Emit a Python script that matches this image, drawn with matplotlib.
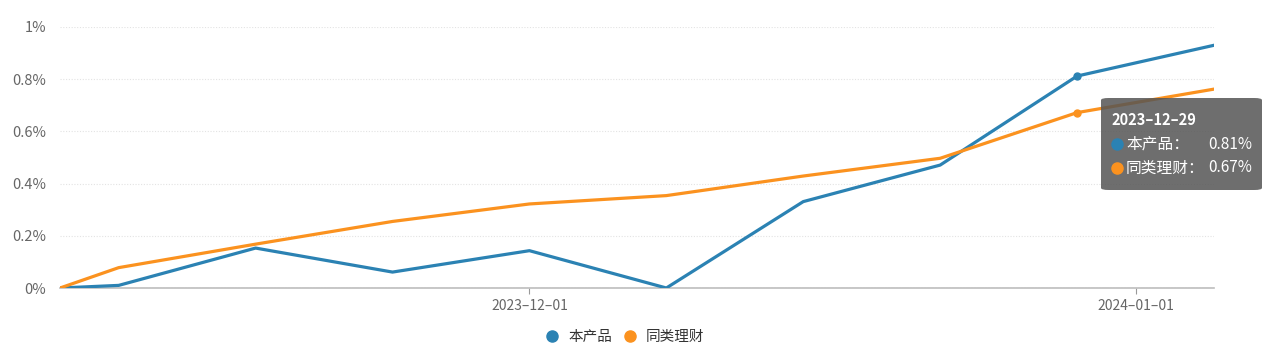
import matplotlib.pyplot as plt
import matplotlib.dates as mdates
from matplotlib.lines import Line2D
from matplotlib.patches import FancyBboxPatch
import numpy as np
import pandas as pd

plt.rcParams['font.family'] = ['Noto Sans CJK SC', 'DejaVu Sans']

# data (percent)
dates = pd.to_datetime(['2023-11-07', '2023-11-10', '2023-11-17', '2023-11-24', '2023-12-01',
                        '2023-12-08', '2023-12-15', '2023-12-22', '2023-12-29', '2024-01-05'])
product = [0.0, 0.01, 0.153, 0.061, 0.143, 0.0, 0.331, 0.471, 0.812, 0.93]
peers = [0.0, 0.078, 0.168, 0.255, 0.322, 0.354, 0.429, 0.497, 0.672, 0.762]
names = ['本产品', '同类理财']
yticks = [0, 0.2, 0.4, 0.6, 0.8, 1.0]
ytick_labels = ['0%', '0.2%', '0.4%', '0.6%', '0.8%', '1%']
xticks = pd.to_datetime(['2023-12-01', '2024-01-01'])
hover = 8  # index of 2023-12-29

blue = '#2b82b3'
orange = '#fb921f'
W, H = 1268, 352

fig = plt.figure(figsize=(W / 100, H / 100), dpi=100)
ax = fig.add_axes([60 / W, 1 - 288 / H, (1214 - 60) / W, (288 - 27) / H])

ax.plot(dates, product, color=blue, lw=2.3, solid_joinstyle='round', zorder=3)
ax.plot(dates, peers, color=orange, lw=2.3, solid_joinstyle='round', zorder=3)
ax.plot(dates[hover], product[hover], 'o', color=blue, ms=5, zorder=4)
ax.plot(dates[hover], peers[hover], 'o', color=orange, ms=5, zorder=4)

ax.set_xlim(dates[0], dates[-1])
ax.set_ylim(0, 1.0)
ax.set_yticks(yticks)
ax.set_yticklabels(ytick_labels)
ax.set_xticks(xticks)
ax.xaxis.set_major_formatter(mdates.DateFormatter('%Y–%m–%d'))

for s in ['top', 'right', 'left']:
    ax.spines[s].set_visible(False)
ax.spines['bottom'].set_color('#bdbdbd')
ax.spines['bottom'].set_linewidth(1.2)
ax.tick_params(axis='y', length=0, pad=10, labelsize=10.5, labelcolor='#666666')
ax.tick_params(axis='x', length=4, color='#999999', pad=4, labelsize=10, labelcolor='#666666')
ax.grid(axis='y', color='#e3e3e3', linestyle=(0, (1, 1.5)), lw=0.8)
ax.set_axisbelow(True)

# legend at bottom
handles = [Line2D([], [], marker='o', ls='', color=c, ms=8) for c in [blue, orange]]
fig.legend(handles, names, loc='center', bbox_to_anchor=(621 / W, 1 - 337 / H), ncol=2,
           frameon=False, fontsize=10.5, handletextpad=0.1, columnspacing=0.2,
           labelcolor='#333333')

# tooltip at 2023-12-29
box = FancyBboxPatch((1101 / W, 1 - 190 / H), 161 / W, 92 / H,
                     boxstyle='round,pad=0,rounding_size=0.006', transform=fig.transFigure,
                     facecolor='#555555', alpha=0.85, edgecolor='none', zorder=10)
fig.add_artist(box)
fig.text(1111 / W, 1 - 120 / H, '2023–12–29', color='white', fontsize=10.5,
         fontweight='bold', va='center', zorder=11)
rows = [(names[0] + '：', product[hover], blue, 144), (names[1] + '：', peers[hover], orange, 168)]
for lab, v, c, yy in rows:
    fig.add_artist(Line2D([1117 / W], [1 - yy / H], marker='o', color=c, ms=8, ls='',
                          transform=fig.transFigure, zorder=11))
    fig.text(1126 / W, 1 - yy / H, lab, color='white', fontsize=11.3, va='center', zorder=11)
    fig.text(1252 / W, 1 - yy / H, f'{v:.2f}%', color='white', fontsize=11,
             va='center', ha='right', zorder=11)

fig.savefig('out.png', dpi=100)
